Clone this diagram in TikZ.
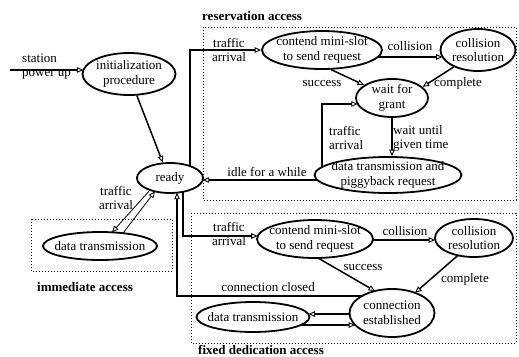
\documentclass[tikz,border=0pt]{standalone}
\usepackage{fontspec}
\setmainfont{Liberation Serif}
\usetikzlibrary{shapes.geometric,arrows.meta,calc}
\begin{document}
\begin{tikzpicture}[x=1pt,y=-1pt,
 ell/.style 2 args={draw, ellipse, line width=1.8pt, minimum width=#1pt, minimum height=#2pt, inner sep=0pt},
 txt/.style={align=center, inner sep=0pt, font=\fontsize{13}{14.5}\selectfont},
 lbl/.style={align=center, inner sep=0pt, font=\fontsize{13}{14}\selectfont},
 lbll/.style={align=left, anchor=west, inner sep=0pt, font=\fontsize{13}{14}\selectfont},
 ttl/.style={inner sep=0pt, anchor=west, font=\bfseries\fontsize{13}{14}\selectfont},
 box/.style={line width=1pt, dash pattern=on 1pt off 2pt},
 arr/.style={line width=1.5pt, -{Triangle[open, length=6.5pt, width=5.5pt, line width=0.9pt]}},
 thinarr/.style={line width=0.8pt, -{Triangle[open, length=6.5pt, width=5.5pt, line width=0.8pt]}},
]
\useasboundingbox (0,0) rectangle (519,356);

% access boxes
\draw[box] (203,27) rectangle (516,200);
\draw[box] (31,219) rectangle (172,271);
\draw[box] (191,213) rectangle (516,343);
\node[ttl] (t1) at (202,16) {reservation access};
\node[ttl] (t2) at (37,287) {immediate access};
\node[ttl] (t3) at (198,349.5) {fixed dedication access};

% states
\node[ell={93}{42}] (init) at (129,74) {};
\node[txt] (initT) at (init.center) {initialization\\procedure};
\node[ell={66}{30}] (ready) at (170,178) {};
\node[txt] (readyT) at (ready.center) {ready};

\node[ell={120}{38}] (rc) at (322,50) {};
\node[txt] (rcT) at (rc.center) {contend mini-slot\\to send request};
\node[ell={75}{42}] (rr) at (478,50) {};
\node[txt] (rrT) at (rr.center) {collision\\resolution};
\node[ell={72}{38}] (wg) at (392,98) {};
\node[txt] (wgT) at (wg.center) {wait for\\grant};
\node[ell={147}{36}] (dt) at (388,175) {};
\node[txt] (dtT) at (dt.center) {data transmission and\\piggyback request};

\node[ell={114}{28}] (id) at (100,246) {};
\node[txt] (idT) at (id.center) {data transmission};

\node[ell={116}{38}] (fc) at (315,239) {};
\node[txt] (fcT) at (fc.center) {contend mini-slot\\to send request};
\node[ell={78}{38}] (fr) at (474,238) {};
\node[txt] (frT) at (fr.center) {collision\\resolution};
\node[ell={85}{48}] (ce) at (392,313) {};
\node[txt] (ceT) at (ce.center) {connection\\established};
\node[ell={113}{30}] (fd) at (253,317) {};
\node[txt] (fdT) at (fd.center) {data transmission};

% start
\coordinate (s0) at (10,70);
\draw[arr] (s0) -- ($(init.center)+(-45.6,-4)$);
\node[lbll] (sL) at (22,67) {station\\power up};
\draw[arr] (init.-70) -- (ready.115);

% reservation access
\draw[arr] ($(ready.center)+(20,-12)$) |- (rc.west);
\node[lbl] (ta1) at (229,50) {traffic\\arrival};
\draw[arr] ($(rc.center)+(55.8,7)$) -- ($(rr.center)+(-35.4,7)$);
\node[lbl] (col1) at (410,46) {collision};
\draw[arr] (rc.-65) -- (wg.155);
\node[lbl] (suc1) at (322,83) {success};
\draw[arr] (rr.-145) -- (wg.20);
\node[lbl] (cmp1) at (458,83) {complete};
\draw[arr] (wg.south) -- (wg.south |- dt.north);
\node[lbll] (wu) at (393,138) {wait until\\given time};
\draw[arr] ($(dt.center)+(-66,-8)$) |- ($(wg.center)+(-34.2,6)$);
\node[lbll] (ta2) at (329,138) {traffic\\arrival};
\draw[arr] ($(dt.center)+(-70.6,5)$) -- ($(ready.center)+(32.7,2)$);
\node[lbl] (idle) at (267,172) {idle for a while};

% immediate access
\draw[thinarr] ($(ready.center)+(-20,12)$) -- ($(id.center)+(12,-13.7)$);
\draw[thinarr] ($(id.center)+(23,-12.8)$) -- ($(ready.center)+(-15,13.4)$);
\node[lbl] (ta3) at (116,198) {traffic\\arrival};

% fixed dedication access
\draw[arr] ($(ready.center)+(13,13.8)$) |- ($(fc.center)+(-57.3,-3)$);
\node[lbl] (ta4) at (229,234) {traffic\\arrival};
\draw[arr] ($(fc.center)+(57.9,1)$) -- ($(fr.center)+(-38.8,2)$);
\node[lbl] (col2) at (405,231) {collision};
\draw[arr] ($(fc.center)+(3,19)$) -- ($(ce.center)+(-17,-22)$);
\node[lbl] (suc2) at (363,267) {success};
\draw[arr] ($(fr.center)+(-16,17.3)$) -- ($(ce.center)+(23,-20.2)$);
\node[lbl] (cmp2) at (465,279) {complete};
\draw[arr] ($(ce.center)+(-42.5,1)$) -- ($(fd.center)+(55.4,-3)$);
\draw[arr] ($(fd.center)+(47.8,8)$) -- ($(ce.center)+(-36.8,12)$);
\draw[arr] ($(ce.center)+(-30,-17)$) -| ($(ready.center)+(7,14.7)$);
\node[lbl] (cc) at (268,287) {connection closed};
\end{tikzpicture}
\end{document}
